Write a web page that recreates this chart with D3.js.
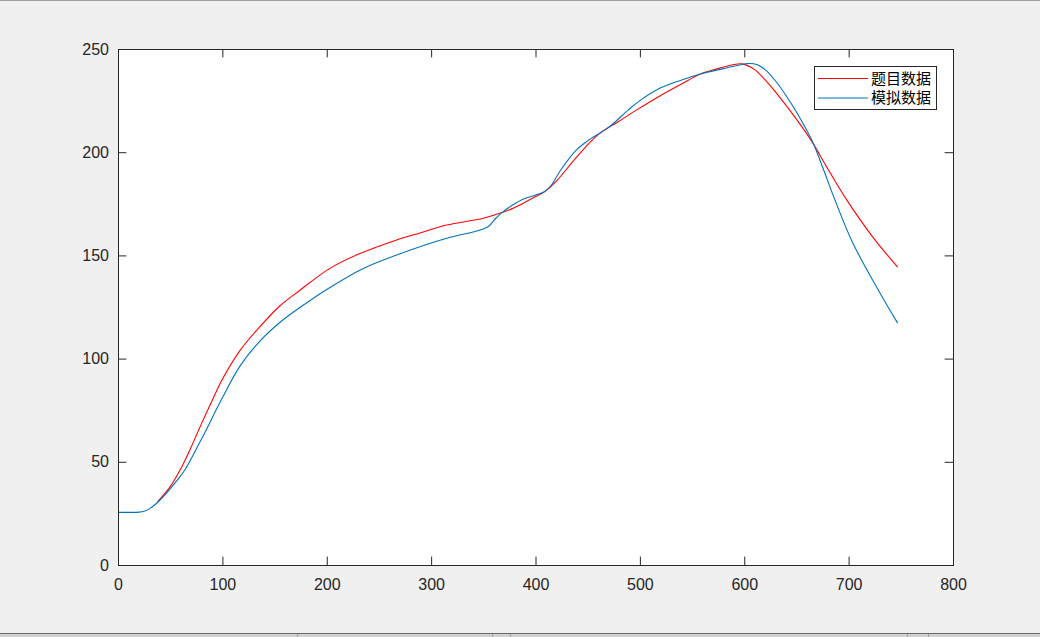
<!DOCTYPE html>
<html><head><meta charset="utf-8">
<script src="https://cdn.jsdelivr.net/npm/d3@7"></script>
<style>
html,body{margin:0;padding:0;background:#f0f0f0;}
svg{display:block;}
text{font-family:"Liberation Sans",Arial,Helvetica,sans-serif;}
</style></head>
<body>
<svg id="chart" width="1040" height="637"></svg>
<script>
// ---- data ----
const seriesNames = ["题目数据", "模拟数据"];
const redX = [38, 50, 60, 70, 80, 90, 100, 117, 136, 155, 174, 203, 230, 267, 290, 315, 340, 350, 360, 372, 388, 400, 409, 420, 440, 460, 480, 497, 520, 540, 558, 575, 590, 598, 610, 620, 635, 650, 665, 680, 698, 723, 747];
const redY = [30.7, 38, 46.5, 57, 68.5, 79.5, 90, 104, 115.5, 125.5, 133, 143.7, 150.5, 157.5, 161, 164.7, 167, 168, 169.5, 171.5, 175.2, 178.5, 181, 186, 198, 208.5, 215, 220.5, 227.5, 233, 237.9, 240.5, 242.5, 242.8, 240, 235, 226, 216, 205, 192, 177, 159, 144.3];
const blueX = [0, 10, 20, 25, 30, 37, 45, 55, 64, 80, 100, 117, 136, 155, 175, 200, 235, 267, 315, 340, 350, 355, 362, 369, 380, 388, 400, 409, 415, 425, 439, 450, 470, 489, 500, 520, 540, 558, 580, 600, 605, 612, 620, 630, 640, 650, 665, 676, 686, 704, 730, 747];
const blueY = [25.5, 25.5, 25.6, 26, 27.2, 29.9, 34, 40, 46, 61, 81, 96.5, 108.5, 117.5, 125, 133.5, 143.7, 150.2, 158.3, 161.3, 162.8, 164, 168, 171.2, 175, 177.2, 179.3, 181, 184, 192, 201, 205.5, 212, 220.5, 225, 231.2, 235, 237.9, 240.5, 242.7, 243, 242.5, 240, 234.5, 227.5, 219.5, 205.5, 191.5, 178, 156, 131.8, 117.2];
const xTicks = [0, 100, 200, 300, 400, 500, 600, 700, 800];
const yTicks = [0, 50, 100, 150, 200, 250];
const colors = ["#ff0000", "#0072bd"];

// ---- layout ----
const svg = d3.select("#chart");
const L = 118, R = 953, T = 49, B = 565;
const x = d3.scaleLinear().domain([0, 800]).range([L, R]);
const y = d3.scaleLinear().domain([0, 250]).range([B, T]);

// window frame bits
svg.append("rect").attr("x",0).attr("y",0).attr("width",1040).attr("height",637).attr("fill","#f0f0f0");
svg.append("line").attr("x1",0).attr("x2",1040).attr("y1",0.5).attr("y2",0.5).attr("stroke","#a0a0a0");
svg.append("rect").attr("x",0).attr("y",634).attr("width",1040).attr("height",3).attr("fill","#d2d2d2");
svg.append("line").attr("x1",0).attr("x2",1040).attr("y1",633.5).attr("y2",633.5).attr("stroke","#6a6a6a");
[297, 492, 510, 907, 928].forEach(px => svg.append("line").attr("x1",px+0.5).attr("x2",px+0.5).attr("y1",634).attr("y2",637).attr("stroke","#a0a0a0"));

// plot area
svg.append("rect").attr("x",L).attr("y",T).attr("width",R-L).attr("height",B-T).attr("fill","#ffffff");

const tickLen = 8.35;
const axisColor = "#262626";
const gx = svg.append("g").attr("transform",`translate(0,${B})`)
  .call(d3.axisBottom(x).tickValues(xTicks).tickSizeInner(-tickLen).tickSizeOuter(0).tickPadding(14));
const gxt = svg.append("g").attr("transform",`translate(0,${T})`)
  .call(d3.axisTop(x).tickValues(xTicks).tickSizeInner(-tickLen).tickSizeOuter(0).tickFormat(""));
const gy = svg.append("g").attr("transform",`translate(${L},0)`)
  .call(d3.axisLeft(y).tickValues(yTicks).tickSizeInner(-tickLen).tickSizeOuter(0).tickPadding(9));
const gyr = svg.append("g").attr("transform",`translate(${R},0)`)
  .call(d3.axisRight(y).tickValues(yTicks).tickSizeInner(-tickLen).tickSizeOuter(0).tickFormat(""));
[gx,gxt,gy,gyr].forEach(g => {
  g.select(".domain").remove();
  g.selectAll(".tick line").attr("stroke",axisColor);
  g.selectAll(".tick text").attr("fill",axisColor).style("font-size","16px");
});
gx.selectAll(".tick text").attr("dy","0.71em");

// lines
const redData = redX.map((v,i)=>[v,redY[i]]);
const blueData = blueX.map((v,i)=>[v,blueY[i]]);
const line = d3.line().x(d=>x(d[0])).y(d=>y(d[1])).curve(d3.curveCatmullRom.alpha(0.5));
svg.append("path").datum(redData).attr("d",line).attr("fill","none").attr("stroke",colors[0]).attr("stroke-width",1.1);
svg.append("path").datum(blueData).attr("d",line).attr("fill","none").attr("stroke",colors[1]).attr("stroke-width",1.1);

// box
svg.append("rect").attr("x",L+0.5).attr("y",T+0.5).attr("width",R-L).attr("height",B-T).attr("fill","none").attr("stroke",axisColor).attr("stroke-width",1);

// legend
const lg = svg.append("g");
lg.append("rect").attr("x",814.5).attr("y",66.5).attr("width",122).attr("height",43).attr("fill","#ffffff").attr("stroke",axisColor);
const rowsY = [78.5, 98];
seriesNames.forEach((n,i)=>{
  lg.append("line").attr("x1",818).attr("x2",868).attr("y1",rowsY[i]).attr("y2",rowsY[i]).attr("stroke",colors[i]).attr("stroke-width",1.1);
  lg.append("text").attr("x",871).attr("y",rowsY[i]).attr("dy","0.35em").attr("fill","#000")
    .style("font-family","'Noto Sans CJK SC','Noto Sans CJK JP',sans-serif").style("font-size","15px").text(n);
});
</script>
</body></html>
